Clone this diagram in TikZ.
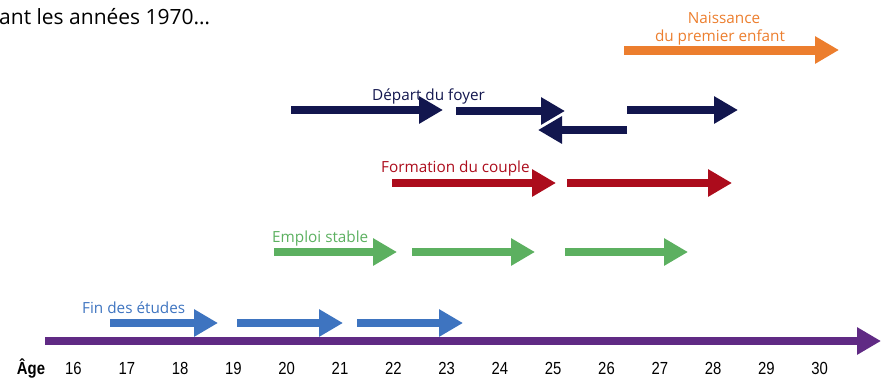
\documentclass[tikz,border=0pt]{standalone}
\usepackage{fontspec}
\setmainfont{Open Sans}
\newfontfamily\numfont[FakeStretch=0.85]{Liberation Sans}
\usetikzlibrary{arrows.meta}
\definecolor{cnavy}{RGB}{18,22,78}
\definecolor{cred}{RGB}{172,12,28}
\definecolor{cgreen}{RGB}{92,176,96}
\definecolor{cblue}{RGB}{62,116,192}
\definecolor{corange}{RGB}{236,126,46}
\definecolor{cpurple}{RGB}{96,42,132}
\tikzset{
  bigarrow/.style={line width=8pt,-{Triangle[length=24pt,width=26pt]}},
  lbl/.style={font=\fontsize{15.3}{17}\selectfont,inner sep=0pt,anchor=base west},
  agelbl/.style={font=\numfont\fontsize{17.5}{19}\selectfont,inner sep=0pt,anchor=base}
}
\begin{document}
\begin{tikzpicture}[x=1pt,y=-1pt]
\useasboundingbox (0,0) rectangle (884,378);
% title fragment
\node[inner sep=0pt,anchor=base west,font=\fontsize{21}{23}\selectfont] (title) at (-1,24) {ant les années 1970\dots};
% axis
\coordinate (ax0) at (45,341);
\coordinate (ax1) at (881,341);
\draw[bigarrow,color=cpurple,line width=8.5pt] (ax0) -- (ax1);
\node[agelbl,font=\numfont\bfseries\fontsize{17.5}{19}\selectfont] (age) at (31,374.5) {Âge};
\foreach \n [count=\i from 0] in {16,...,30} {
  \node[agelbl] (a\n) at (73.5+53.3*\i,374.5) {\n};
}
% Fin des etudes
\node[lbl,text=cblue] (fin) at (82,313) {Fin des études};
\coordinate (b1s) at (110,323); \coordinate (b1e) at (218,323);
\coordinate (b2s) at (237,323); \coordinate (b2e) at (343,323);
\coordinate (b3s) at (357,323); \coordinate (b3e) at (463,323);
\draw[bigarrow,cblue] (b1s) -- (b1e);
\draw[bigarrow,cblue] (b2s) -- (b2e);
\draw[bigarrow,cblue] (b3s) -- (b3e);
% Emploi stable
\node[lbl,text=cgreen] (emp) at (272,242) {Emploi stable};
\coordinate (g1s) at (274,252); \coordinate (g1e) at (397,252);
\coordinate (g2s) at (412,252); \coordinate (g2e) at (535,252);
\coordinate (g3s) at (565,252); \coordinate (g3e) at (688,252);
\draw[bigarrow,cgreen] (g1s) -- (g1e);
\draw[bigarrow,cgreen] (g2s) -- (g2e);
\draw[bigarrow,cgreen] (g3s) -- (g3e);
% Formation du couple
\node[lbl,text=cred] (form) at (381,172) {Formation du couple};
\coordinate (r1s) at (392,183); \coordinate (r1e) at (556,183);
\coordinate (r2s) at (567,183); \coordinate (r2e) at (732,183);
\draw[bigarrow,cred] (r1s) -- (r1e);
\draw[bigarrow,cred] (r2s) -- (r2e);
% Depart du foyer
\node[lbl,text=cnavy] (dep) at (372,100) {Départ du foyer};
\coordinate (n1s) at (291,110); \coordinate (n1e) at (443,110);
\coordinate (n2s) at (456,111); \coordinate (n2e) at (565,111);
\coordinate (n3s) at (627,130); \coordinate (n3e) at (538,130);
\coordinate (n4s) at (627,110); \coordinate (n4e) at (738,110);
\draw[bigarrow,cnavy] (n1s) -- (n1e);
\draw[bigarrow,cnavy] (n2s) -- (n2e);
\draw[bigarrow,cnavy] (n3s) -- (n3e);
\draw[bigarrow,cnavy] (n4s) -- (n4e);
% Naissance
\node[inner sep=0pt,anchor=base,text=corange,font=\fontsize{15.3}{17}\selectfont] (nais) at (724,23) {Naissance};
\node[inner sep=0pt,anchor=base,text=corange,font=\fontsize{15.3}{17}\selectfont] (nais2) at (720,41) {du premier enfant};
\coordinate (o1s) at (624,50); \coordinate (o1e) at (839,50);
\draw[bigarrow,corange,line width=9pt] (o1s) -- (o1e);
\end{tikzpicture}
\end{document}
